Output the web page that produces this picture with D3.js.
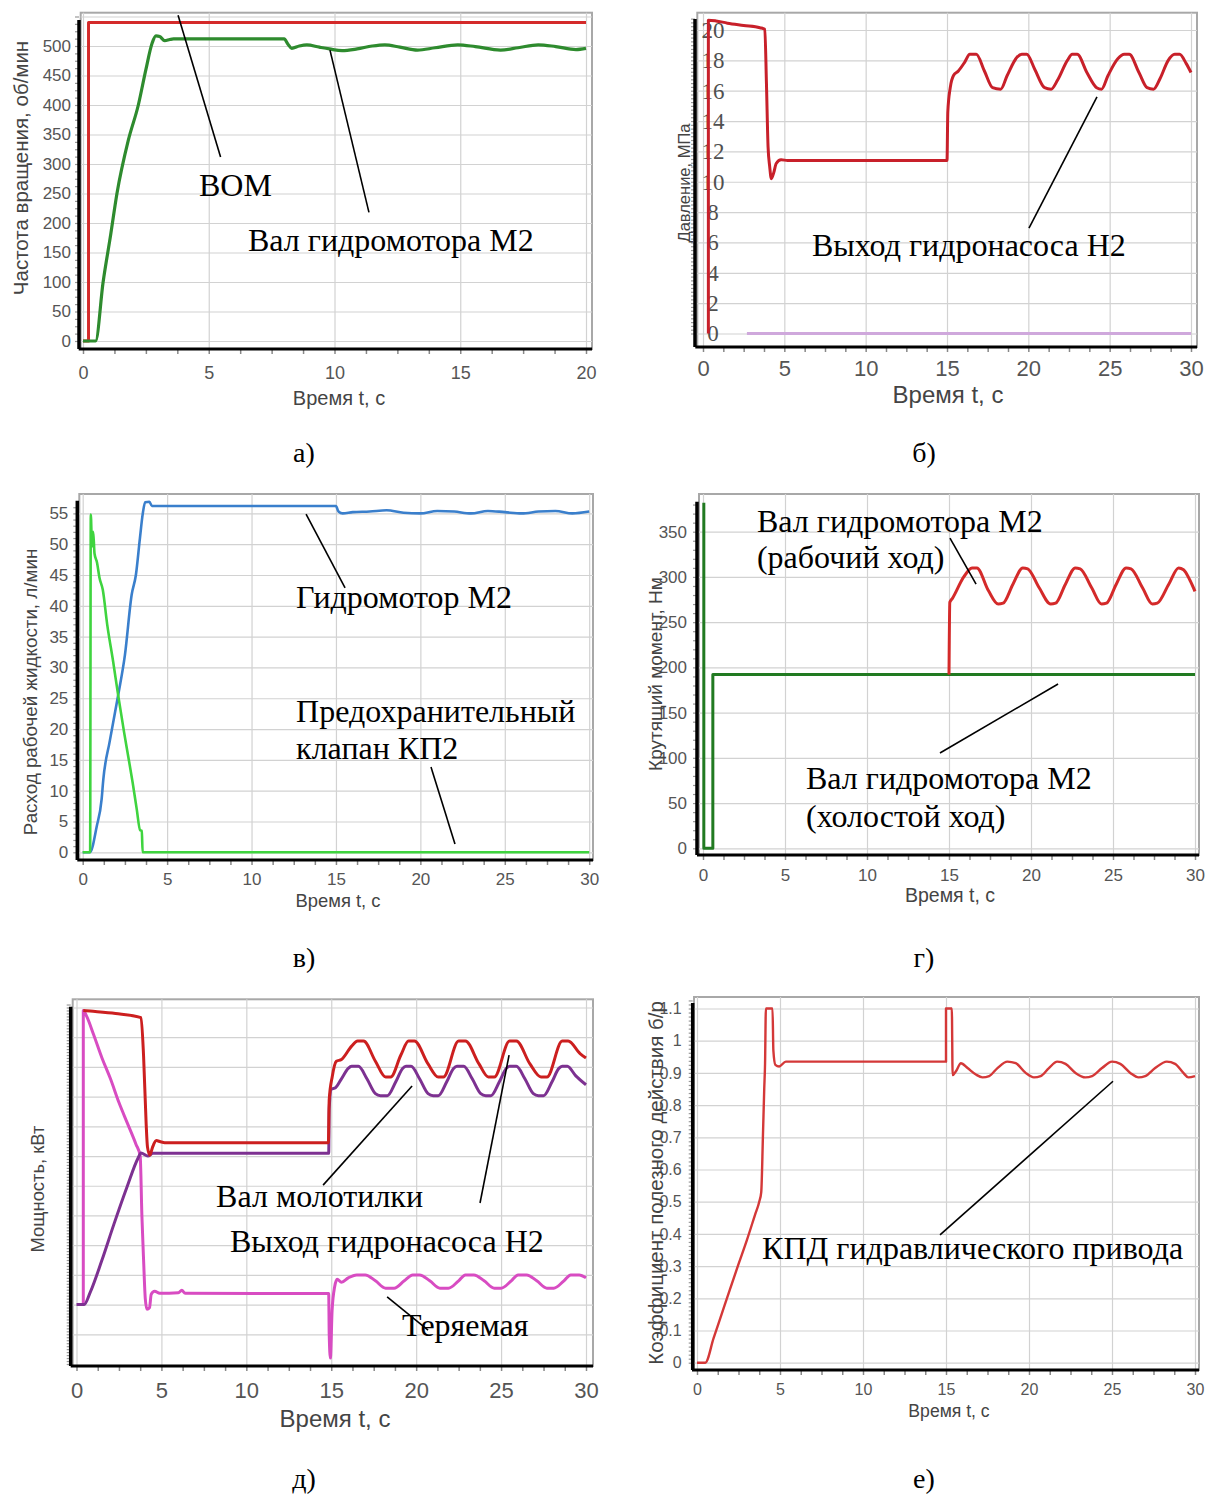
<!DOCTYPE html>
<html>
<head>
<meta charset="utf-8">
<script src="https://cdn.jsdelivr.net/npm/d3@7"></script>
<style>
  body { margin: 0; background: #fff; }
</style>
</head>
<body>
<svg id="fig" width="1206" height="1495"></svg>
<script>
// ---- data (time in s) ----

// а) rotation speed, rpm
var rpmPto = [[0, 0], [0.22, 0], [0.22, 540], [20, 540]];
var rpmMotor = [[0, 0], [0.5, 0], [0.8, 100], [1.1, 180], [1.35, 250], [1.8, 340], [2.2, 400], [2.5, 460],
  [2.75, 505], [2.9, 517], [3.05, 516], [3.25, 509], [3.45, 511], [3.6, 512], [8.0, 512], [8.15, 503],
  [8.3, 496], [8.6, 500], [8.9, 502], [9.4, 498], [9.8, 495], [10.3, 492], [10.9, 495], [11.5, 500],
  [12.0, 502], [12.6, 498], [13.3, 493], [14.0, 497], [14.9, 502], [15.6, 499], [16.6, 493], [17.3, 497],
  [18.1, 502], [18.8, 499], [19.6, 494], [20, 496]];

// б) pressure, MPa
var presPump = [[0.33, 0], [0.33, 20.65], [0.8, 20.6], [1.5, 20.45], [2.5, 20.3], [3.5, 20.15], [3.8, 20.05],
  [3.9, 16.5], [4.0, 12.3], [4.1, 11.0], [4.2, 10.2], [4.35, 10.6], [4.5, 11.2], [4.8, 11.45], [5.2, 11.4],
  [15.0, 11.4], [15.05, 14.6], [15.2, 16.2], [15.4, 17.0], [15.7, 17.3], [16.1, 17.9], [16.4, 18.4],
  [16.8, 18.4], [17.3, 17.3], [17.8, 16.2], [18.3, 16.1], [18.7, 17.0], [19.3, 18.2], [19.6, 18.4],
  [19.9, 18.4], [20.4, 17.4], [21.0, 16.2], [21.4, 16.1], [21.8, 16.7], [22.4, 18.0], [22.7, 18.4],
  [23.0, 18.4], [23.6, 17.2], [24.2, 16.2], [24.5, 16.1], [24.9, 17.0], [25.5, 18.1], [25.9, 18.4],
  [26.2, 18.4], [26.8, 17.2], [27.3, 16.2], [27.7, 16.1], [28.1, 16.8], [28.6, 18.0], [29.0, 18.4],
  [29.3, 18.4], [29.7, 17.8], [30, 17.2]];
var presDrain = [[2.7, 0], [30, 0]];

// в) flow, l/min
var flowMotor = [[0, 0], [0.43, 0], [0.83, 4.2], [1.12, 8.6], [1.22, 11.8], [1.6, 18], [2.1, 25.5],
  [2.5, 32], [2.9, 41.8], [3.15, 45], [3.39, 51], [3.56, 55], [3.7, 56.8], [3.95, 56.9], [4.1, 56.2],
  [15.0, 56.2], [15.15, 55.3], [15.4, 55.0], [16.0, 55.2], [17.0, 55.3], [18.0, 55.5], [19.0, 55.1],
  [20.0, 55.0], [21.0, 55.4], [22.0, 55.3], [23.0, 55.0], [24.0, 55.4], [25.0, 55.2], [26.0, 55.0],
  [27.0, 55.3], [28.0, 55.4], [29.0, 55.0], [30.0, 55.3]];
var flowValve = [[0, 0], [0.44, 0], [0.48, 54.8], [0.55, 49.6], [0.62, 52], [0.7, 48.5], [0.85, 47],
  [0.99, 44.6], [1.19, 42.6], [1.45, 37], [1.8, 31], [2.1, 25.5], [2.45, 19.5], [2.7, 15.5], [2.96, 11.3],
  [3.2, 7], [3.4, 3.6], [3.5, 3.5], [3.55, 0], [30, 0]];

// г) torque, N·m
var torqueIdle = [[0.05, 382], [0.05, 0], [0.6, 0], [0.6, 192], [30, 192]];
var torqueWork = [[15.0, 192], [15.05, 272], [15.2, 276], [15.9, 300], [16.4, 310], [16.7, 310],
  [17.4, 285], [18.0, 270], [18.3, 271], [18.9, 292], [19.5, 310], [19.8, 309], [20.5, 288], [21.2, 270],
  [21.5, 271], [22.1, 292], [22.7, 310], [23.0, 309], [23.7, 288], [24.3, 270], [24.6, 271], [25.2, 292],
  [25.8, 310], [26.1, 309], [26.8, 288], [27.4, 270], [27.7, 271], [28.4, 292], [29.0, 310], [29.3, 308],
  [29.7, 296], [30, 284]];

// д) power, in grid units (the reference prints no values on this axis)
var powerPump = [[0.4, 11.9], [0.8, 11.88], [2.3, 11.8], [3.8, 11.66], [3.95, 10.36], [4.1, 8.1],
  [4.18, 7.3], [4.32, 7.03], [4.48, 7.3], [4.7, 7.52], [4.94, 7.48], [5.2, 7.45], [14.83, 7.45],
  [14.88, 8.9], [15.06, 9.68], [15.3, 10.19], [15.6, 10.25], [16.2, 10.7], [16.55, 10.87], [16.9, 10.87],
  [17.6, 10.19], [18.2, 9.66], [18.5, 9.66], [19.1, 10.4], [19.55, 10.87], [19.9, 10.87], [20.7, 10.1],
  [21.3, 9.66], [21.6, 9.66], [22.5, 10.87], [22.9, 10.87], [23.7, 10.1], [24.25, 9.66], [24.6, 9.66],
  [25.5, 10.87], [25.9, 10.87], [26.7, 10.1], [27.35, 9.66], [27.7, 9.66], [28.6, 10.87], [28.95, 10.87],
  [29.65, 10.45], [30, 10.3]];
var powerShaft = [[0, 2.0], [0.45, 2.0], [0.8, 2.4], [1.5, 3.5], [2.2, 4.7], [3.0, 6.0], [3.6, 6.9],
  [3.8, 7.1], [4.2, 7.0], [4.5, 7.09], [14.85, 7.09], [14.88, 8.6], [15.0, 9.25], [15.25, 9.3],
  [15.6, 9.6], [16.0, 9.95], [16.2, 10.02], [16.6, 10.02], [17.1, 9.6], [17.6, 9.1], [17.9, 9.03],
  [18.3, 9.03], [18.8, 9.5], [19.2, 9.95], [19.4, 10.02], [19.7, 10.02], [20.2, 9.6], [20.7, 9.1],
  [21.0, 9.03], [21.3, 9.03], [21.8, 9.5], [22.2, 9.95], [22.4, 10.02], [22.8, 10.02], [23.3, 9.6],
  [23.8, 9.1], [24.1, 9.03], [24.4, 9.03], [24.9, 9.5], [25.3, 9.95], [25.5, 10.02], [25.9, 10.02],
  [26.4, 9.6], [26.9, 9.1], [27.2, 9.03], [27.5, 9.03], [28.0, 9.5], [28.4, 9.95], [28.6, 10.02],
  [28.9, 10.02], [29.4, 9.7], [30, 9.4]];
var powerLoss = [[0.4, 2.0], [0.4, 11.9], [0.6, 11.7], [1.0, 11.1], [1.5, 10.3], [2.0, 9.6], [2.5, 8.8],
  [3.0, 8.1], [3.5, 7.4], [3.75, 7.0], [3.85, 5.0], [3.95, 3.5], [4.05, 2.2], [4.15, 1.84], [4.3, 1.9],
  [4.4, 2.35], [4.6, 2.45], [4.9, 2.38], [6.0, 2.4], [6.2, 2.48], [6.4, 2.38], [14.85, 2.37], [14.88, 1.0],
  [14.95, 0.2], [15.05, 1.8], [15.2, 2.6], [15.35, 2.85], [15.6, 2.75], [16.0, 2.9], [16.5, 3.0],
  [17.0, 3.0], [17.6, 2.8], [18.2, 2.55], [18.7, 2.55], [19.3, 2.8], [19.8, 3.0], [20.2, 3.0], [20.8, 2.8],
  [21.4, 2.55], [21.9, 2.55], [22.5, 2.8], [22.9, 3.0], [23.4, 3.0], [24.0, 2.8], [24.6, 2.55], [25.0, 2.55],
  [25.6, 2.8], [26.0, 3.0], [26.5, 3.0], [27.1, 2.8], [27.7, 2.55], [28.1, 2.55], [28.7, 2.8], [29.1, 3.0],
  [29.6, 3.0], [30, 2.9]];

// е) efficiency
var efficiency = [[0, 0], [0.5, 0], [1.0, 0.076], [1.5, 0.153], [2.0, 0.23], [2.5, 0.306], [3.0, 0.38],
  [3.5, 0.46], [3.75, 0.5], [3.87, 0.53], [3.97, 0.7], [4.05, 0.85], [4.1, 0.93], [4.15, 1.1], [4.55, 1.1],
  [4.6, 0.97], [4.72, 0.925], [4.95, 0.92], [5.35, 0.935], [15.0, 0.935], [15.0, 1.1], [15.35, 1.1],
  [15.4, 0.893], [15.6, 0.905], [15.9, 0.93], [16.3, 0.915], [16.8, 0.895], [17.2, 0.886], [17.6, 0.89],
  [18.1, 0.915], [18.7, 0.935], [19.2, 0.93], [19.8, 0.9], [20.3, 0.886], [20.7, 0.89], [21.2, 0.915],
  [21.7, 0.935], [22.2, 0.928], [22.8, 0.9], [23.4, 0.886], [23.8, 0.89], [24.4, 0.915], [25.0, 0.935],
  [25.5, 0.928], [26.1, 0.9], [26.6, 0.886], [27.0, 0.89], [27.6, 0.915], [28.3, 0.935], [28.8, 0.928],
  [29.3, 0.9], [29.6, 0.886], [30, 0.89]];

// tick labels
var ticksT20 = [0, 5, 10, 15, 20];
var ticksT30 = [0, 5, 10, 15, 20, 25, 30];
var ticksRpm = [0, 50, 100, 150, 200, 250, 300, 350, 400, 450, 500];
var ticksPres = [0, 2, 4, 6, 8, 10, 12, 14, 16, 18, 20];
var ticksFlow = [0, 5, 10, 15, 20, 25, 30, 35, 40, 45, 50, 55];
var ticksTorque = [0, 50, 100, 150, 200, 250, 300, 350];
var ticksEff = [0, 0.1, 0.2, 0.3, 0.4, 0.5, 0.6, 0.7, 0.8, 0.9, 1, 1.1];

var svg = d3.select("#fig");
var serif = '"Liberation Serif", "Times New Roman", serif';
var sans = '"Liberation Sans", Arial, sans-serif';
var clipId = 0;

function drawPanel(p) {
  var g = svg.append("g");
  var f = p.frame;
  var x = d3.scaleLinear().domain(p.xDomain).range(p.xRange);
  var y = d3.scaleLinear().domain(p.yDomain).range(p.yRange);

  // plot area with grey border
  g.append("rect")
    .attr("x", f.l).attr("y", f.t)
    .attr("width", f.r - f.l).attr("height", f.b - f.t)
    .attr("fill", "#fff").attr("stroke", "#a8a8a8").attr("stroke-width", 2);

  // grid
  g.append("g").attr("transform", `translate(0,${f.b})`)
    .call(d3.axisBottom(x).tickValues(p.gridX).tickSize(-(f.b - f.t)).tickFormat(""))
    .call(a => a.select(".domain").remove())
    .selectAll("line").attr("stroke", "#d2d2d2").attr("stroke-width", 1.2);
  g.append("g").attr("transform", `translate(${f.l},0)`)
    .call(d3.axisLeft(y).tickValues(p.gridY).tickSize(-(f.r - f.l)).tickFormat(""))
    .call(a => a.select(".domain").remove())
    .selectAll("line").attr("stroke", "#d2d2d2").attr("stroke-width", 1.2);

  // minor ticks under x axis and left of y axis
  g.append("g").attr("transform", `translate(0,${f.b})`)
    .call(d3.axisBottom(x).tickValues(d3.range(p.xDomain[0], p.xDomain[1] + 0.01, 1.25)).tickSize(5).tickFormat(""))
    .call(a => a.select(".domain").remove())
    .selectAll("line").attr("stroke", "#888").attr("stroke-width", 1.5);
  g.append("g").attr("transform", `translate(${p.axisX},0)`)
    .call(d3.axisLeft(y).tickValues(d3.range(p.yMinor[0], p.yMinor[1], p.yMinor[2])).tickSize(4).tickFormat(""))
    .call(a => a.select(".domain").remove())
    .selectAll("line").attr("stroke", "#999").attr("stroke-width", 1.2);

  // black axis lines
  g.append("line").attr("x1", f.l - 2).attr("x2", f.r).attr("y1", f.b).attr("y2", f.b)
    .attr("stroke", "#000").attr("stroke-width", 3);
  g.append("line").attr("x1", p.axisX).attr("x2", p.axisX).attr("y1", p.axisTop).attr("y2", f.b)
    .attr("stroke", "#000").attr("stroke-width", 3.5);

  // x tick labels
  var xl = g.append("g").attr("transform", `translate(0,${f.b})`)
    .call(d3.axisBottom(x).tickValues(p.xTicks).tickSize(0));
  xl.select(".domain").remove();
  xl.selectAll("text").attr("y", p.xLabelY - f.b).attr("dy", "0.36em")
    .attr("font-family", sans).attr("font-size", p.xFont).attr("fill", "#555");

  // y tick labels
  if (p.yTicks) {
    if (p.yInside) {
      var yl = g.append("g").attr("transform", `translate(${p.axisX},0)`)
        .call(d3.axisRight(y).tickValues(p.yTicks).tickSize(0));
      yl.select(".domain").remove();
      yl.selectAll("text").attr("x", p.yLabelDx).attr("text-anchor", "middle")
        .attr("font-family", serif).attr("font-size", p.yFont).attr("fill", "#505050");
    } else {
      var yl2 = g.append("g").attr("transform", `translate(${p.axisX},0)`)
        .call(d3.axisLeft(y).tickValues(p.yTicks).tickSize(0).tickPadding(p.yPad)
          .tickFormat(p.yFormat || d3.format("d")));
      yl2.select(".domain").remove();
      yl2.selectAll("text").attr("font-family", sans).attr("font-size", p.yFont).attr("fill", "#555");
    }
  }

  // series
  clipId += 1;
  g.append("clipPath").attr("id", "clip" + clipId)
    .append("rect").attr("x", f.l - 8).attr("y", f.t).attr("width", f.r - f.l + 8).attr("height", f.b - f.t);
  var line = d3.line().curve(d3.curveMonotoneX).x(d => x(d[0])).y(d => y(d[1]));
  p.series.forEach(function(s) {
    g.append("path").datum(s.data)
      .attr("clip-path", `url(#clip${clipId})`)
      .attr("d", line)
      .attr("fill", "none")
      .attr("stroke", s.color)
      .attr("stroke-width", s.width)
      .attr("stroke-linejoin", "round");
  });

  // axis titles
  g.append("text").attr("x", p.xTitle[0]).attr("y", p.xTitle[1]).attr("dy", "0.35em")
    .attr("text-anchor", "middle").attr("font-family", sans)
    .attr("font-size", p.xTitle[2]).attr("fill", "#444")
    .text("Время t, с");
  g.append("text")
    .attr("transform", `translate(${p.yTitle[0]},${p.yTitle[1]}) rotate(-90)`)
    .attr("dy", "0.35em").attr("text-anchor", "middle").attr("font-family", sans)
    .attr("font-size", p.yTitle[2]).attr("fill", "#444")
    .text(p.yTitle[3]);

  // leader lines and serif annotations, placed in data coordinates
  p.leaders.forEach(function(l) {
    g.append("line")
      .attr("x1", x(l[0])).attr("y1", y(l[1])).attr("x2", x(l[2])).attr("y2", y(l[3]))
      .attr("stroke", "#000").attr("stroke-width", 1.6);
  });
  p.notes.forEach(function(n) {
    g.append("text").attr("x", x(n[1])).attr("y", y(n[2])).attr("dy", "0.33em")
      .attr("font-family", serif).attr("font-size", 32).attr("fill", "#000")
      .text(n[0]);
  });

  // panel letter
  svg.append("text").attr("x", p.letter[1]).attr("y", p.letter[2]).attr("dy", "0.35em")
    .attr("text-anchor", "middle").attr("font-family", serif).attr("font-size", 28)
    .text(p.letter[0]);
}

// а)
drawPanel({
  frame: {l: 80.7, t: 12.7, r: 592, b: 349},
  xDomain: [0, 20], xRange: [83, 586],
  yDomain: [0, 500], yRange: [341, 46],
  axisX: 79, axisTop: 20, yMinor: [0, 560, 12.5],
  gridX: ticksT20, gridY: [0, 50, 100, 150, 200, 250, 300, 350, 400, 450, 500, 550],
  xTicks: ticksT20, xLabelY: 373, xFont: 18,
  yTicks: ticksRpm, yPad: 8, yFont: 17,
  xTitle: [339, 398, 20], yTitle: [21, 168, 20.5, "Частота вращения, об/мин"],
  series: [
    {data: rpmPto, color: "#d42a2a", width: 3},
    {data: rpmMotor, color: "#2e8b2e", width: 3.2}
  ],
  leaders: [[3.78, 552, 5.47, 312], [9.82, 493, 11.37, 218]],
  notes: [["ВОМ", 4.61, 264], ["Вал гидромотора М2", 6.56, 171]],
  letter: ["а)", 304, 452]
});

// б)
drawPanel({
  frame: {l: 697.3, t: 12.7, r: 1197, b: 347},
  xDomain: [0, 30], xRange: [703, 1191],
  yDomain: [0, 20], yRange: [333.5, 30],
  axisX: 695, axisTop: 19, yMinor: [0, 21, 0.25],
  gridX: ticksT30, gridY: ticksPres,
  xTicks: ticksT30, xLabelY: 368, xFont: 22,
  yTicks: ticksPres, yInside: true, yLabelDx: 18, yFont: 23,
  xTitle: [948, 395, 24], yTitle: [684, 183, 16.5, "Давление, МПа"],
  series: [
    {data: presDrain, color: "#cfa8dc", width: 3},
    {data: presPump, color: "#c8202a", width: 3}
  ],
  leaders: [[24.22, 15.59, 20.04, 6.95]],
  notes: [["Выход гидронасоса Н2", 6.7, 5.83]],
  letter: ["б)", 924, 452]
});

// в)
drawPanel({
  frame: {l: 79.3, t: 494, r: 593, b: 860},
  xDomain: [0, 30], xRange: [82.7, 589.2],
  yDomain: [0, 55], yRange: [852.3, 513.4],
  axisX: 77.3, axisTop: 500.7, yMinor: [0, 57, 1],
  gridX: ticksT30, gridY: ticksFlow,
  xTicks: ticksT30, xLabelY: 879, xFont: 17,
  yTicks: ticksFlow, yPad: 9, yFont: 17,
  xTitle: [338, 901, 18.4], yTitle: [30, 692, 18.8, "Расход рабочей жидкости, л/мин"],
  series: [
    {data: flowMotor, color: "#3a7fcc", width: 2.6},
    {data: flowValve, color: "#3fd43f", width: 2.6}
  ],
  leaders: [[13.23, 54.9, 15.54, 42.9], [20.63, 13.84, 22.05, 1.35]],
  notes: [["Гидромотор М2", 12.64, 41.43], ["Предохранительный", 12.64, 22.9], ["клапан КП2", 12.64, 16.9]],
  letter: ["в)", 304, 957]
});

// г)
drawPanel({
  frame: {l: 699, t: 494, r: 1199, b: 855},
  xDomain: [0, 30], xRange: [703, 1195],
  yDomain: [0, 350], yRange: [848.3, 531.7],
  axisX: 697, axisTop: 501.7, yMinor: [0, 385, 10],
  gridX: ticksT30, gridY: ticksTorque,
  xTicks: ticksT30, xLabelY: 875, xFont: 17,
  yTicks: ticksTorque, yPad: 10, yFont: 17,
  xTitle: [950, 895, 19.5], yTitle: [655, 674, 19, "Крутящий момент, Нм"],
  series: [
    {data: torqueIdle, color: "#217a21", width: 3},
    {data: torqueWork, color: "#d42a2a", width: 3}
  ],
  leaders: [[15.06, 343, 16.65, 292], [21.65, 181.6, 14.45, 105.3]],
  notes: [["Вал гидромотора М2", 3.29, 361.8], ["(рабочий ход)", 3.29, 322],
    ["Вал гидромотора М2", 6.28, 77.7], ["(холостой ход)", 6.28, 35.7]],
  letter: ["г)", 924, 957]
});

// д)
drawPanel({
  frame: {l: 72.7, t: 999.3, r: 593, b: 1366},
  xDomain: [0, 30], xRange: [76.5, 586],
  yDomain: [0, 12], yRange: [1364, 1007.5],
  axisX: 70.7, axisTop: 1006.7, yMinor: [0, 12.2, 0.1],
  gridX: ticksT30, gridY: d3.range(1, 13),
  xTicks: ticksT30, xLabelY: 1390, xFont: 22,
  yTicks: null,
  xTitle: [335, 1419, 24], yTitle: [38, 1189, 18.4, "Мощность, кВт"],
  series: [
    {data: powerLoss, color: "#d84cc2", width: 3},
    {data: powerShaft, color: "#7d3191", width: 3},
    {data: powerPump, color: "#cc1f1f", width: 3}
  ],
  leaders: [[14.52, 6.02, 19.76, 9.36], [23.76, 5.42, 25.47, 10.4], [18.29, 2.26, 20.7, 1.14]],
  notes: [["Вал молотилки", 8.22, 5.65], ["Выход гидронасоса Н2", 9.04, 4.14], ["Теряемая", 19.17, 1.31]],
  letter: ["д)", 304, 1478]
});

// е)
drawPanel({
  frame: {l: 694, t: 997, r: 1199, b: 1370},
  xDomain: [0, 30], xRange: [697, 1195],
  yDomain: [0, 1.1], yRange: [1362.7, 1008.5],
  axisX: 692.7, axisTop: 1003, yMinor: [0, 1.13, 0.0125],
  gridX: ticksT30, gridY: ticksEff,
  xTicks: ticksT30, xLabelY: 1389, xFont: 16,
  yTicks: ticksEff, yPad: 11, yFont: 16, yFormat: d => String(+d.toFixed(1)),
  xTitle: [949, 1411, 17.6], yTitle: [656, 1183, 20.5, "Коэффициент полезного действия б/р"],
  series: [
    {data: efficiency, color: "#d43838", width: 2.4}
  ],
  leaders: [[25.06, 0.874, 14.64, 0.397]],
  notes: [["КПД гидравлического привода", 3.92, 0.354]],
  letter: ["е)", 924, 1478]
});
</script>
</body>
</html>
